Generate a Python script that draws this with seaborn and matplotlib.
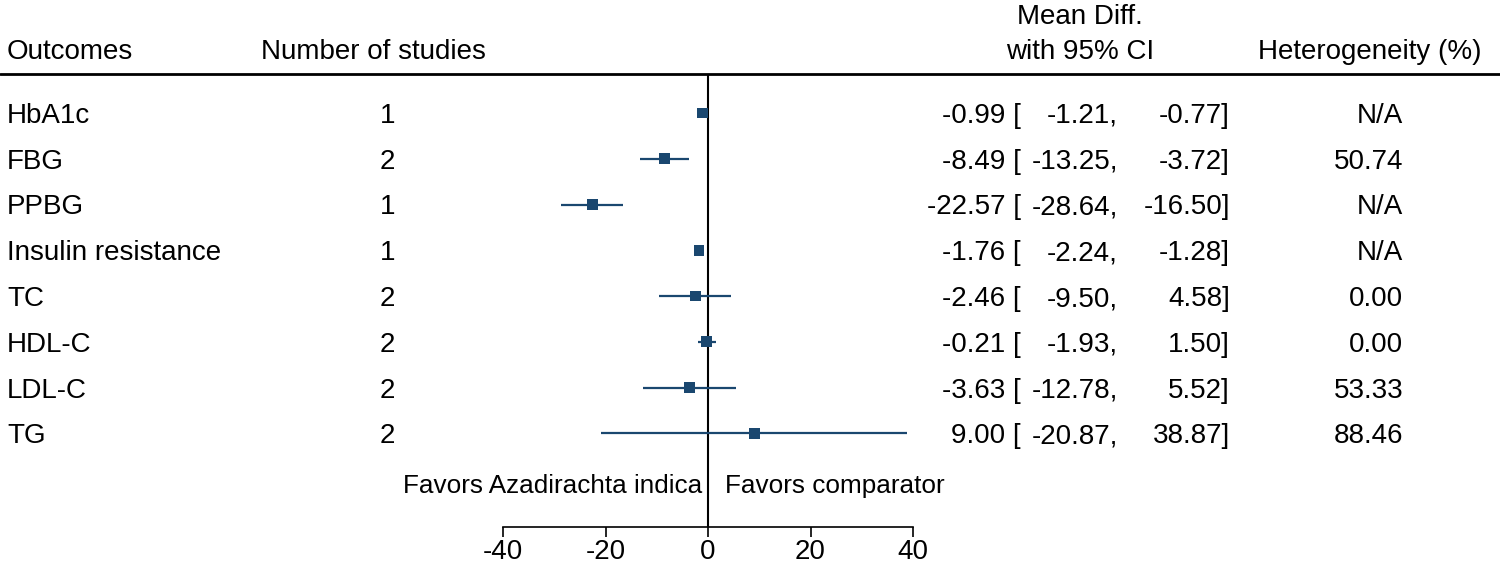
import numpy as np
import pandas as pd
import matplotlib
matplotlib.use("Agg")
import matplotlib.pyplot as plt
import matplotlib.transforms as mtransforms
import seaborn as sns

outcomes = ["HbA1c", "FBG", "PPBG", "Insulin resistance", "TC", "HDL-C", "LDL-C", "TG"]
n_studies = [1, 2, 1, 1, 2, 2, 2, 2]
mean_diff = [-0.99, -8.49, -22.57, -1.76, -2.46, -0.21, -3.63, 9.00]
ci_low = [-1.21, -13.25, -28.64, -2.24, -9.50, -1.93, -12.78, -20.87]
ci_high = [-0.77, -3.72, -16.50, -1.28, 4.58, 1.50, 5.52, 38.87]
heterogeneity = ["N/A", "50.74", "N/A", "N/A", "0.00", "0.00", "53.33", "88.46"]
x_ticks = [-40, -20, 0, 20, 40]

df = pd.DataFrame({
    "outcome": outcomes,
    "row": np.arange(len(outcomes)),
    "md": mean_diff,
    "lo": ci_low,
    "hi": ci_high,
})

sns.set_theme(style="white")
plt.rcParams["font.family"] = ["Liberation Sans", "DejaVu Sans"]
plt.rcParams["axes.unicode_minus"] = False
plt.rcParams["text.color"] = "black"
plt.rcParams["xtick.color"] = "black"
navy = "#1a476f"
fs = 20

W, H = 1500, 562
fig = plt.figure(figsize=(W / 100, H / 100), dpi=100)

# forest panel sits between the -40 and 40 tick positions
left, right, top, bottom = 503, 913, 74, 527
ax = fig.add_axes([left / W, 1 - bottom / H, (right - left) / W, (bottom - top) / H])

row_h = 45.75
first_row = 113
ax.set_xlim(-40, 40)
ax.set_ylim((bottom - first_row) / row_h, (top - first_row) / row_h)

ax.hlines(df["row"], df["lo"], df["hi"], color=navy, lw=1.6, zorder=2)
sns.scatterplot(data=df, x="md", y="row", marker="s", s=62, color=navy,
                edgecolor="none", ax=ax, zorder=3, legend=False)
ax.axvline(0, color="black", lw=1.5, zorder=1)

for side in ["top", "right", "left"]:
    ax.spines[side].set_visible(False)
ax.spines["bottom"].set_color("black")
ax.spines["bottom"].set_linewidth(1.2)
ax.set_yticks([])
ax.set_xticks(x_ticks)
ax.tick_params(axis="x", direction="out", length=7.5, width=1.2, color="black",
               labelcolor="black", labelsize=fs, pad=0.8, bottom=True)
ax.set_xlabel("")
ax.set_ylabel("")
ax.set_facecolor("none")

# baseline sits half a cap height below the row centre
base_off = 10 / row_h

fav_y = (483 - first_row) / row_h
ax.text(-1.2, fav_y + base_off, "Favors Azadirachta indica", ha="right", va="baseline", fontsize=18.8)
ax.text(3.3, fav_y + base_off, "Favors comparator", ha="left", va="baseline", fontsize=18.8)

# text columns: x in figure pixels, y in row units
tr = mtransforms.blended_transform_factory(fig.transFigure, ax.transData)


def px(x):
    return x / W


def put(x, y, s, ha="left"):
    ax.text(px(x), y + base_off, s, transform=tr, ha=ha, va="baseline",
            fontsize=fs, clip_on=False)


head_y = (49 - first_row) / row_h
put(7, head_y, "Outcomes")
put(261, head_y, "Number of studies")
put(1080, head_y, "with 95% CI", ha="center")
put(1080, (14 - first_row) / row_h, "Mean Diff.", ha="center")
put(1258, head_y, "Heterogeneity (%)")

for i in range(len(outcomes)):
    put(7, i, outcomes[i])
    put(395, i, str(n_studies[i]), ha="right")
    put(1021, i, f"{mean_diff[i]:.2f} [", ha="right")
    put(1118, i, f"{ci_low[i]:.2f},", ha="right")
    put(1230, i, f"{ci_high[i]:.2f}]", ha="right")
    put(1403, i, heterogeneity[i], ha="right")

# header rule across the full width
fig.add_artist(plt.Line2D([0, 1], [1 - top / H, 1 - top / H], color="black", lw=2.0,
                          transform=fig.transFigure))

fig.savefig("out.png", dpi=100)
